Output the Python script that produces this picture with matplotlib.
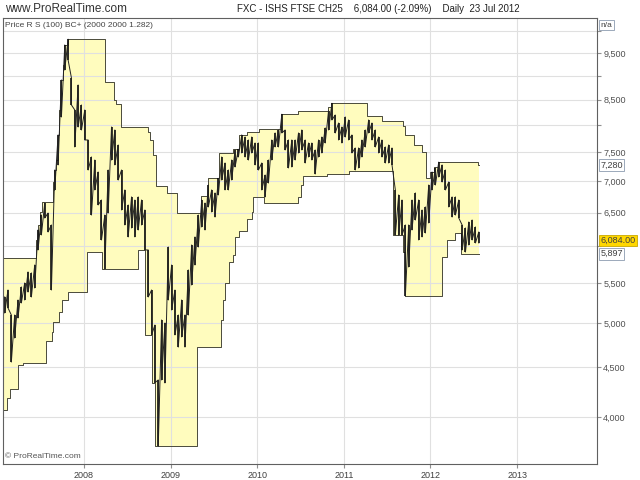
import matplotlib
matplotlib.use("Agg")
import matplotlib.pyplot as plt
from matplotlib.ticker import NullLocator
import pandas as pd

plt.rcParams['font.family'] = ['Liberation Sans', 'DejaVu Sans']

# high / low of each two-week bar
highs = [5320, 5409, 5097, 5097, 5282, 5448, 5500, 5646, 5633, 5740,
         6238, 6464, 6651, 6495, 6313, 7194, 7819, 8910, 9683, 9816,
         8952, 8297, 8805, 8396, 8297, 7726, 7420, 7367, 7160, 6699,
         6464, 7194, 7968, 7912, 7635, 7194, 6861, 6620, 6748, 6699,
         6748, 6699, 6542, 5949, 5409, 4977, 4368, 5037, 5001, 5991,
         5740, 5409, 5097, 5282, 5097, 5673, 6020, 6136, 6464, 6699,
         6651, 6942, 6861, 6812, 7053, 7420, 7315, 7194, 7367, 7545,
         7557, 7819, 7781, 7726, 7781, 7671, 7671, 7315, 7109, 7367,
         7726, 7856, 7912, 8213, 7912, 7726, 7726, 7726, 7856, 7912,
         7726, 7671, 7671, 7545, 7726, 7781, 7950, 8283, 8430, 8199,
         8044, 7968, 8160, 8102, 7819, 7581, 7581, 7726, 7912, 8102,
         8044, 7912, 7781, 7726, 7599, 7635, 7581, 6861, 6780, 6699,
         6313, 6313, 6699, 6812, 6699, 6542, 6589, 6942, 7160, 7229,
         7330, 7281, 7194, 6992, 6748, 6748, 6699, 6313, 6268, 6358,
         6388, 6283, 6209]
lows = [5121, 5183, 4558, 4826, 5061, 5245, 5282, 5383, 5320, 5435,
        5949, 6165, 6418, 6209, 5409, 6861, 7281, 8160, 9124, 9344,
        8396, 7599, 7968, 7912, 7726, 7194, 6464, 6861, 6620, 6092,
        5686, 6495, 7367, 7281, 7025, 6542, 6313, 6136, 6268, 6136,
        6238, 6313, 5949, 5320, 4861, 4340, 3730, 4368, 4337, 5282,
        5158, 4861, 4723, 4838, 4723, 5097, 5474, 5740, 5991, 6283,
        6238, 6589, 6511, 6433, 6780, 7025, 6861, 6861, 7025, 7246,
        7420, 7491, 7420, 7367, 7491, 7281, 7194, 6861, 6748, 6975,
        7367, 7599, 7599, 7856, 7545, 7229, 7246, 7367, 7491, 7545,
        7315, 7420, 7367, 7126, 7420, 7491, 7671, 7912, 8102, 7856,
        7726, 7671, 7781, 7726, 7491, 7194, 7229, 7420, 7599, 7856,
        7726, 7599, 7491, 7420, 7315, 7315, 7281, 6165, 6160, 6165,
        5332, 5713, 6238, 6388, 6092, 6136, 6194, 6343, 6861, 6942,
        7075, 6992, 6861, 6589, 6433, 6464, 6418, 5949, 5920, 6020,
        6092, 6049, 6049]
bar_dates = pd.date_range("2007-02-02", "2012-07-23", periods=len(highs))

# resistance / support steps of the R S (100) band
upper_dates = ['2007-01-26', '2007-06-14', '2007-06-21', '2007-07-02', '2007-07-09',
               '2007-08-23', '2007-08-30', '2007-09-07', '2007-09-14', '2007-09-21',
               '2007-09-28', '2007-10-05', '2007-10-12', '2007-10-26', '2008-03-29',
               '2008-05-06', '2008-05-17', '2008-06-07', '2008-09-27', '2008-10-07',
               '2008-10-20', '2008-10-31', '2008-12-17', '2009-01-28', '2009-05-10',
               '2009-06-06', '2009-07-26', '2009-09-23', '2009-10-18', '2009-11-21',
               '2010-01-10', '2010-04-10', '2010-06-23', '2010-10-27', '2010-11-08',
               '2011-04-07', '2011-06-09', '2011-09-07', '2011-09-18', '2011-10-25',
               '2011-11-25', '2011-12-14', '2011-12-30', '2012-01-16', '2012-02-03',
               '2012-07-20', '2012-07-23']
upper_vals = [5841, 6092, 6313, 6511, 6667,
              6992, 7194, 7367, 7819, 8300,
              8910, 9233, 9683, 9816, 8875,
              8497, 8416, 7974, 7880, 7726,
              7455, 6926, 6807, 6500, 6769,
              7053, 7496, 7557, 7819, 7869,
              7925, 8213, 8283, 8356, 8431,
              8185, 8088, 7987, 7819, 7635,
              7514, 7058, 7160, 7246, 7330,
              7280, 7280]
lower_dates = ['2007-01-26', '2007-02-10', '2007-02-24', '2007-03-31', '2007-04-21',
               '2007-07-26', '2007-08-20', '2007-08-24', '2007-09-21', '2007-10-01',
               '2007-10-29', '2008-01-14', '2008-03-20', '2008-08-15', '2008-09-16',
               '2008-10-14', '2008-10-28', '2009-04-24', '2009-08-01', '2009-08-11',
               '2009-08-19', '2009-09-05', '2009-09-23', '2009-09-30', '2009-10-18',
               '2009-11-19', '2009-12-10', '2009-12-16', '2010-01-30', '2010-06-23',
               '2010-07-04', '2010-07-14', '2010-10-21', '2011-01-21', '2011-07-28',
               '2011-09-09', '2011-09-15', '2012-02-17', '2012-03-09', '2012-04-13',
               '2012-05-08', '2012-07-23']
lower_vals = [4067, 4183, 4273, 4526, 4544,
              4787, 4899, 5017, 5137, 5282,
              5379, 5925, 5683, 5949, 4861,
              4340, 3730, 4727, 5037, 5282,
              5495, 5785, 5878, 6141, 6228,
              6399, 6516, 6742, 6652, 6752,
              6942, 7097, 7126, 7177, 6158,
              5921, 5332, 5854, 6092, 6190,
              5897, 5897]

y_ticks = [4000, 4500, 5000, 5500, 6000, 6500, 7000, 7500, 8000, 8500, 9000, 9500, 10000]
y_labels = ["4,000", "4,500", "5,000", "5,500", "", "6,500", "7,000", "7,500", "",
            "8,500", "", "9,500", ""]
years = [2008, 2009, 2010, 2011, 2012, 2013]

last_close = 6084.00
last_upper = 7280
last_lower = 5897

up = pd.Series(upper_vals, index=pd.to_datetime(upper_dates))
lo = pd.Series(lower_vals, index=pd.to_datetime(lower_dates))
idx = up.index.union(lo.index)
up_all = up.reindex(idx).ffill()
lo_all = lo.reindex(idx).ffill()

fig = plt.figure(figsize=(6.4, 4.8), dpi=100)
ax = fig.add_axes([3/640, 16/480, 594/640, 446/480])

ax.fill_between(idx, lo_all, up_all, step='post', color='#FFFCBE', lw=0, zorder=0.3)
ax.plot(idx, up_all, drawstyle='steps-post', color='#4a4a3a', lw=0.7, zorder=1.5)
ax.plot(idx, lo_all, drawstyle='steps-post', color='#4a4a3a', lw=0.7, zorder=1.5)

# price bars, joined bar to bar so they read as one daily trace
ax.vlines(bar_dates, lows, highs, color='black', lw=1.1, zorder=2)
zig_x, zig_y = [], []
for d, h, l in zip(bar_dates, highs, lows):
    zig_x += [d, d]
    zig_y += [h, l]
ax.plot(zig_x, zig_y, color='#222222', lw=0.7, zorder=2)

ax.set_yscale('log')
ax.set_ylim(3577, 10324)
ax.set_xlim(pd.Timestamp('2007-01-26'), pd.Timestamp('2013-12-03'))

ax.set_yticks(y_ticks, labels=y_labels)
ax.yaxis.set_minor_locator(NullLocator())
for lbl in ax.get_yticklabels():
    if lbl.get_text() == "5,000":
        lbl.set_fontweight('bold')
        lbl.set_color('#202020')
ax.set_xticks([pd.Timestamp(f"{y}-01-01") for y in years], labels=[str(y) for y in years])
ax.xaxis.set_minor_locator(NullLocator())

ax.tick_params(axis='y', which='both', right=True, left=False, labelright=True,
               labelleft=False, labelsize=6.5, labelcolor='#505050', color='#909090',
               length=3, pad=1.5)
ax.tick_params(axis='x', labelsize=6.5, labelcolor='#404040', color='#909090',
               length=3, pad=2)
ax.grid(True, color='#e0e0e0', lw=0.8)
ax.set_axisbelow(True)
for s in ax.spines.values():
    s.set_color('#606060')
    s.set_linewidth(0.8)

# header texts
fig.text(5/640, 1 - 9/480, "www.ProRealTime.com", fontsize=8.5, va='center', color='#333333')
fig.text(237/640, 1 - 9/480,
         "FXC - ISHS FTSE CH25    6,084.00 (-2.09%)    Daily  23 Jul 2012",
         fontsize=7, va='center', color='#222222')
ax.text(0.004, 0.99, "Price R S (100) BC+ (2000 2000 1.282)", transform=ax.transAxes,
        fontsize=6, va='top', ha='left', color='#444444')
ax.text(0.004, 0.008, "\u00a9 ProRealTime.com", transform=ax.transAxes,
        fontsize=6, va='bottom', ha='left', color='#555555')

# value boxes on the price scale
ytr = ax.get_yaxis_transform()
box = dict(boxstyle='square,pad=0.15', fc='white', ec='#8c9bb0', lw=0.6)
ax.text(1.006, 0.984, "n/a", transform=ax.transAxes, fontsize=6, va='center',
        ha='left', color='#404040', bbox=box, clip_on=False)
ax.text(1.006, last_upper, f"{last_upper:,}", transform=ytr, fontsize=6.5, va='center',
        ha='left', color='#404040', bbox=box, clip_on=False)
ax.text(1.006, last_lower, f"{last_lower:,}", transform=ytr, fontsize=6.5, va='center',
        ha='left', color='#404040', bbox=box, clip_on=False)
ax.text(1.006, last_close, f"{last_close:,.2f}", transform=ytr, fontsize=6.5, va='center',
        ha='left', color='#404040', clip_on=False,
        bbox=dict(boxstyle='square,pad=0.15', fc='#FFD700', ec='#c8a800', lw=0.6))

fig.savefig("out.png", dpi=100)
